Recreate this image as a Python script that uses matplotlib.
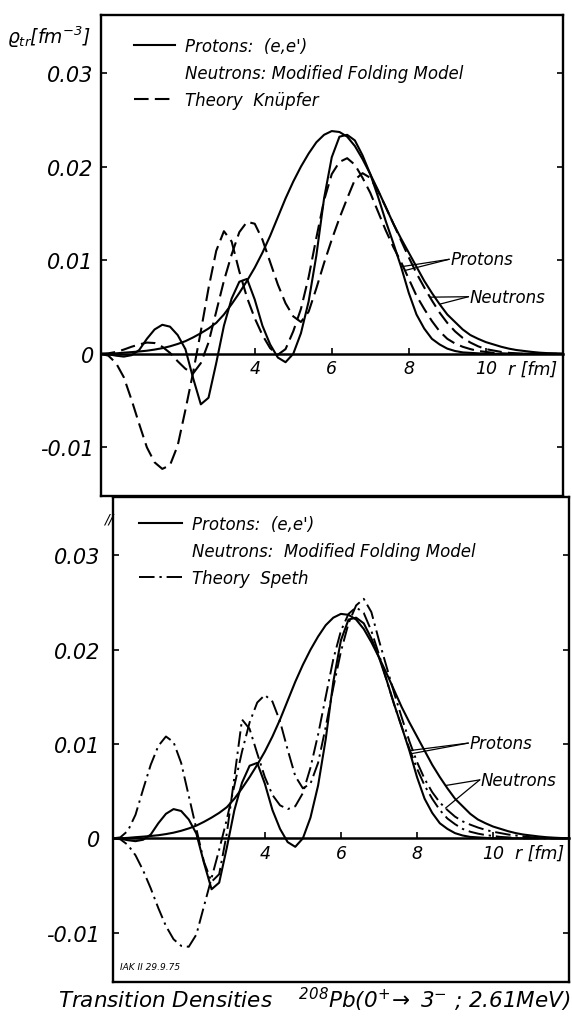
import numpy as np
import matplotlib.pyplot as plt
from matplotlib.lines import Line2D

plt.rcParams['font.family'] = 'DejaVu Sans'
plt.rcParams['font.style'] = 'italic'
plt.rcParams['mathtext.fontset'] = 'dejavusans'
plt.rcParams['mathtext.default'] = 'it'
plt.rcParams['lines.solid_joinstyle'] = 'round'
plt.rcParams['lines.dash_joinstyle'] = 'round'

# radius grid [fm]
r = np.round(np.arange(0, 12.01, 0.2), 1)

# transition densities, in units of 1e-3 fm^-3, on the r grid
prot_ee = [0, -0.05, -0.2, -0.3, -0.15, 0.4, 1.6, 2.6, 3.1, 2.9,
           2.0, 0.5, -2.6, -5.4, -4.7, -1.0, 3.0, 5.9, 7.7, 8.0,
           5.8, 3.0, 1.0, -0.4, -0.9, 0.0, 2.2, 5.6, 10.5, 16.6,
           21.0, 23.2, 23.4, 22.8, 21.2, 19.2, 16.8, 14.2, 11.8, 9.3,
           6.5, 4.2, 2.7, 1.6, 1.0, 0.55, 0.3, 0.15, 0.1, 0.05,
           0, 0, 0, 0, 0, 0, 0, 0, 0, 0, 0]
neut_fold = [0, 0, 0.05, 0.12, 0.18, 0.25, 0.33, 0.45, 0.6, 0.8,
             1.05, 1.35, 1.75, 2.2, 2.7, 3.3, 4.2, 5.3, 6.5, 7.8,
             9.2, 10.8, 12.6, 14.6, 16.6, 18.4, 20.0, 21.4, 22.6, 23.4,
             23.8, 23.7, 23.2, 22.2, 20.8, 19.2, 17.5, 15.7, 13.9, 12.3,
             10.8, 9.3, 7.8, 6.5, 5.3, 4.2, 3.4, 2.6, 2.0, 1.6,
             1.25, 1.0, 0.75, 0.55, 0.4, 0.3, 0.2, 0.12, 0.07, 0.03, 0]
knupfer_p = [0, -0.2, -1.0, -2.5, -4.9, -7.5, -10.0, -11.6, -12.3, -11.9,
             -9.8, -6.0, -2.0, 2.4, 7.0, 11.0, 13.1, 12.0, 8.8, 6.0,
             3.8, 2.0, 0.6, -0.1, 0.5, 2.4, 4.8, 8.2, 12.4, 16.4,
             19.2, 20.5, 20.9, 20.2, 18.8, 17.2, 15.2, 13.2, 11.4, 9.8,
             8.0, 6.2, 4.8, 3.5, 2.4, 1.6, 1.1, 0.75, 0.5, 0.3,
             0.2, 0.1, 0.05, 0, 0, 0, 0, 0, 0, 0, 0]
knupfer_n = [0, 0.05, 0.2, 0.45, 0.75, 1.0, 1.2, 1.15, 0.75, 0.1,
             -0.8, -1.6, -2.1, -1.0, 1.2, 4.5, 7.8, 10.6, 13.0, 14.1,
             13.9, 12.2, 9.8, 7.4, 5.4, 4.0, 3.4, 4.5, 7.0, 9.7,
             12.2, 14.5, 16.6, 18.6, 19.3, 18.8, 17.4, 15.7, 13.9, 12.1,
             10.3, 8.6, 7.1, 5.7, 4.4, 3.3, 2.4, 1.7, 1.2, 0.8,
             0.5, 0.35, 0.2, 0.1, 0.05, 0, 0, 0, 0, 0, 0]
speth_p = [0, 0.1, 0.8, 2.5, 5.2, 7.8, 9.8, 10.8, 10.2, 8.0,
           4.5, 1.0, -2.5, -4.6, -3.8, 0.5, 6.5, 12.6, 11.6, 9.0,
           6.5, 4.6, 3.5, 3.1, 3.4, 4.8, 7.5, 11.0, 15.0, 19.0,
           22.0, 23.8, 24.5, 23.9, 22.0, 19.5, 16.8, 14.2, 11.8, 9.5,
           7.4, 5.6, 4.2, 3.0, 2.1, 1.5, 1.0, 0.7, 0.5, 0.35,
           0.25, 0.15, 0.1, 0.05, 0, 0, 0, 0, 0, 0, 0]
speth_n = [0, -0.1, -0.7, -1.8, -3.4, -5.3, -7.4, -9.3, -10.7, -11.4,
           -11.5, -10.2, -7.2, -4.2, -1.2, 2.0, 5.6, 9.2, 12.3, 14.4,
           15.2, 14.5, 12.4, 9.4, 6.6, 5.3, 5.8, 8.0, 11.8, 16.0,
           19.8, 22.8, 24.7, 25.4, 24.0, 21.0, 18.2, 15.4, 12.8, 10.3,
           8.1, 6.3, 4.9, 3.8, 3.0, 2.3, 1.8, 1.45, 1.15, 0.9,
           0.7, 0.55, 0.4, 0.3, 0.2, 0.12, 0.06, 0.02, 0, 0, 0]

yticks = [-0.01, 0, 0.01, 0.02, 0.03]
ytick_labels = ['-0.01', '0', '0.01', '0.02', '0.03']
xticks = [4, 6, 8, 10]

DASH = (7, 3)
DASHDOT = (8, 2.5, 1.2, 2.5)


def rho(vals):
    return np.array(vals) * 1e-3


def setup_panel(ax, ypad):
    ax.set_xlim(0, 12)
    ax.set_ylim(-0.0152, 0.0362)
    ax.set_xticks([])
    ax.set_yticks(yticks)
    ax.set_yticklabels(ytick_labels, fontsize=15)
    ax.tick_params(axis='y', direction='in', length=4, width=1.2,
                   right=True, pad=ypad)
    for s in ax.spines.values():
        s.set_linewidth(1.7)
    # r axis along rho = 0
    sec = ax.secondary_xaxis(0, transform=ax.transData)
    sec.set_xticks(xticks)
    sec.set_xticklabels([str(t) for t in xticks], fontsize=12.5)
    sec.tick_params(direction='in', length=4, width=1.2, pad=4)
    for s in sec.spines.values():
        s.set_linewidth(1.8)
    ax.annotate('r [fm]', xy=(11.22, 0), xytext=(0, -4),
                textcoords='offset points', ha='center', va='top',
                fontsize=12.5)


def leaders(ax, text, pos, targets):
    for rt, vals in targets:
        ax.annotate('', xy=(rt, np.interp(rt, r, rho(vals))), xytext=pos,
                    arrowprops=dict(arrowstyle='-', lw=0.9, color='k',
                                    shrinkA=0, shrinkB=0))
    ax.text(pos[0] + 0.03, pos[1], text, ha='left', va='center', fontsize=12)


fig = plt.figure(figsize=(5.72, 10.2), dpi=100)

# upper panel: Knuepfer theory
ax1 = fig.add_axes([0.176, 0.5127, 0.808, 0.4716])
setup_panel(ax1, 5)
l_exp, = ax1.plot(r, rho(prot_ee), color='k', lw=1.5)
ax1.plot(r, rho(neut_fold), color='k', lw=1.5)
l_kn, = ax1.plot(r, rho(knupfer_p), color='k', lw=1.5, dashes=DASH)
ax1.plot(r, rho(knupfer_n), color='k', lw=1.5, dashes=DASH)
blank = Line2D([], [], color='none')
ax1.legend([l_exp, blank, l_kn],
           ["Protons:  (e,e')", 'Neutrons: Modified Folding Model',
            'Theory  Knüpfer'],
           loc='upper left', bbox_to_anchor=(0.072, 0.955), frameon=False,
           fontsize=12, handlelength=2.45, handletextpad=0.6,
           labelspacing=0.55, borderpad=0, borderaxespad=0)
leaders(ax1, 'Protons', (9.05, 0.0101),
        [(7.8, prot_ee), (7.9, knupfer_p)])
leaders(ax1, 'Neutrons', (9.55, 0.0061),
        [(8.55, knupfer_n), (8.8, neut_fold)])

# lower panel: Speth theory
ax2 = fig.add_axes([0.197, 0.0366, 0.798, 0.4752])
setup_panel(ax2, 9)
l_exp2, = ax2.plot(r, rho(prot_ee), color='k', lw=1.5)
ax2.plot(r, rho(neut_fold), color='k', lw=1.5)
l_sp, = ax2.plot(r, rho(speth_p), color='k', lw=1.4, dashes=DASHDOT)
ax2.plot(r, rho(speth_n), color='k', lw=1.4, dashes=DASHDOT)
ax2.legend([l_exp2, blank, l_sp],
           ["Protons:  (e,e')", 'Neutrons:  Modified Folding Model',
            'Theory  Speth'],
           loc='upper left', bbox_to_anchor=(0.057, 0.963), frameon=False,
           fontsize=12, handlelength=2.6, handletextpad=0.6,
           labelspacing=0.55, borderpad=0, borderaxespad=0)
leaders(ax2, 'Protons', (9.35, 0.0101),
        [(7.8, prot_ee), (7.85, speth_p)])
leaders(ax2, 'Neutrons', (9.65, 0.0062),
        [(8.75, neut_fold), (8.75, speth_n)])
ax2.text(-0.008, 0.955, '//', transform=ax2.transAxes, ha='center',
         va='center', fontsize=10)
ax2.text(0.016, 0.026, 'IAK II 29.9.75', transform=ax2.transAxes,
         fontsize=6.5)

fig.text(0.012, 0.963, r'$\varrho_{tr}$[fm$^{-3}$]', fontsize=13.5,
         ha='left', va='center')
fig.text(0.55, 0.0196,
         r'Transition Densities    $^{208}$Pb(0$^{+}\!\rightarrow$ 3$^{-}$ ; 2.61MeV)',
         ha='center', va='center', fontsize=15.5)

fig.savefig('out.png', dpi=100)
